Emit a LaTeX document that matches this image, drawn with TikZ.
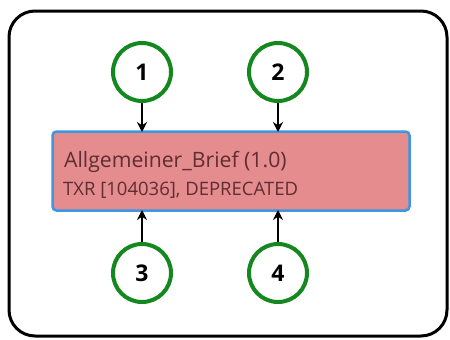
\documentclass[tikz,border=0pt]{standalone}
\usepackage{fontspec}
\setmainfont{Open Sans}
\usetikzlibrary{arrows.meta}
\definecolor{ringgreen}{RGB}{20,135,30}
\definecolor{boxfill}{RGB}{228,140,142}
\definecolor{boxborder}{RGB}{60,150,225}
\definecolor{boxtext}{RGB}{95,45,50}
\tikzset{
  frame/.style={draw=black, line width=3pt, rounded corners=26pt},
  ring/.style={circle, draw=ringgreen, line width=4pt, fill=white, minimum size=58pt, inner sep=0pt, font=\fontsize{23}{25}\selectfont\bfseries},
  entity/.style={draw=boxborder, fill=boxfill, line width=2.5pt, rounded corners=4pt},
  link/.style={-{Stealth[length=10pt,width=10pt]}, line width=1.3pt, black},
}
\begin{document}
\begin{tikzpicture}[x=1pt,y=-1pt]
\useasboundingbox (0,0) rectangle (450,340);
\draw[frame] (9,11) rectangle (447,336);
\node[entity, minimum width=357pt, minimum height=79pt, inner sep=0pt] (box) at (231,171) {};
\node[anchor=base west, text=boxtext, inner sep=0pt, font=\fontsize{21.2}{24}\selectfont] (title) at (64,167) {Allgemeiner\_Brief (1.0)};
\node[anchor=base west, text=boxtext, inner sep=0pt, font=\fontsize{18.5}{21}\selectfont] (sub) at (63,195) {TXR [104036], DEPRECATED};
\node[ring] (n1) at (142,72) {1};
\node[ring] (n2) at (278,72) {2};
\node[ring] (n3) at (142,273) {3};
\node[ring] (n4) at (278,273) {4};
\coordinate (t1) at (142,132);
\coordinate (t2) at (278,132);
\coordinate (b3) at (142,210);
\coordinate (b4) at (278,210);
\draw[link] (n1.south) -- (t1);
\draw[link] (n2.south) -- (t2);
\draw[link] (n3.north) -- (b3);
\draw[link] (n4.north) -- (b4);
\end{tikzpicture}
\end{document}
